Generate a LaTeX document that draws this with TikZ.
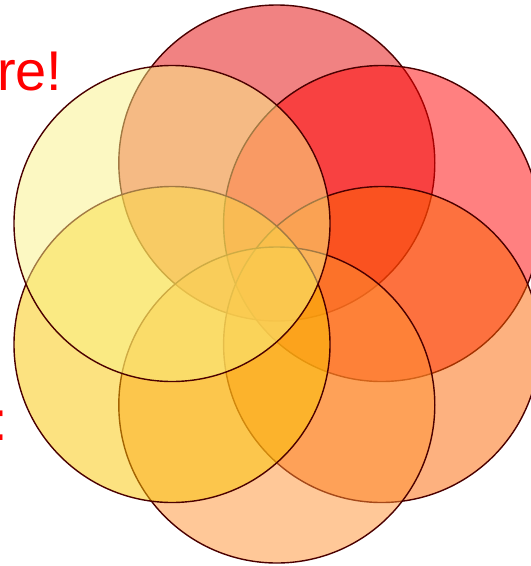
\documentclass[tikz,border=0pt]{standalone}
\usepackage{fontspec}
\setmainfont{Liberation Sans}
\usetikzlibrary{calc}
\definecolor{cTop}{RGB}{228,6,6}
\definecolor{cTopR}{RGB}{255,2,2}
\definecolor{cMidR}{RGB}{252,100,0}
\definecolor{cBot}{RGB}{255,146,50}
\definecolor{cMidL}{RGB}{251,198,2}
\definecolor{cTopL}{RGB}{250,243,135}
\definecolor{edge}{RGB}{75,0,0}
\definecolor{txtred}{RGB}{255,0,0}
\tikzset{
  petal/.style={circle, draw=edge, line width=1.4pt, fill opacity=0.5,
    draw opacity=1, minimum size=316pt, inner sep=0pt},
  label/.style={inner sep=0pt, text=txtred, font=\fontsize{56}{60}\selectfont}
}
\begin{document}
\begin{tikzpicture}[x=1pt,y=-1pt]
\useasboundingbox (0,0) rectangle (531,566);
\clip (0,0) rectangle (531,566);
\fill[white] (0,0) rectangle (531,566);
\node[label, anchor=base west] (t1) at (-3,90) {re!};
\node[label, anchor=base west] (t2) at (-7.4,440) {:};
\coordinate (o) at (276.8,284);
\node[petal, fill=cTop]  (c1) at ($(o)+(0,-121)$) {};
\node[petal, fill=cTopR] (c2) at ($(o)+(104.8,-60.5)$) {};
\node[petal, fill=cMidR] (c3) at ($(o)+(104.8,60.5)$) {};
\node[petal, fill=cBot]  (c4) at ($(o)+(0,121)$) {};
\node[petal, fill=cMidL] (c5) at ($(o)+(-104.8,60.5)$) {};
\node[petal, fill=cTopL] (c6) at ($(o)+(-104.8,-60.5)$) {};
\end{tikzpicture}
\end{document}
